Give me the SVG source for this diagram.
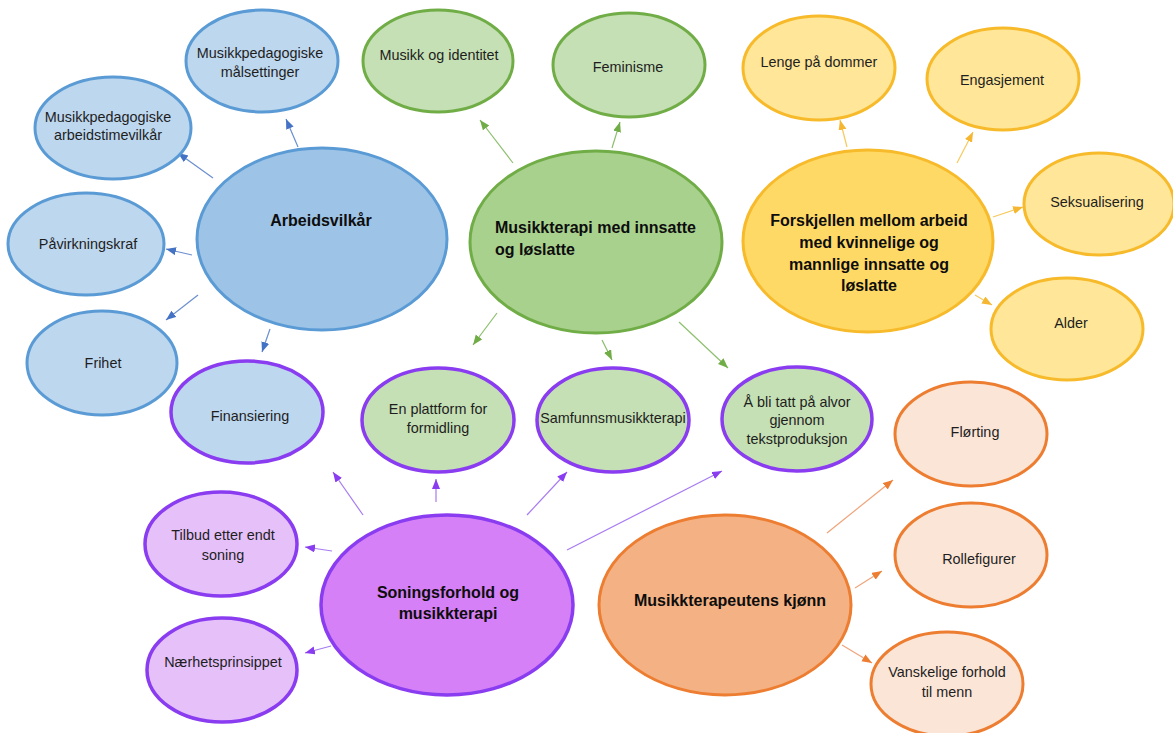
<svg xmlns="http://www.w3.org/2000/svg" width="1173" height="733" viewBox="0 0 1173 733">
<defs>
<style>
text{font-family:"Liberation Sans",Arial,sans-serif;fill:#1e1e1e;text-anchor:middle}
.s{font-size:14.4px}
.b{font-size:16px;font-weight:bold;fill:#0d0d0d}
ellipse{stroke-width:3}
.bl{fill:#BDD7EE;stroke:#5B9BD5}
.blB{fill:#9DC3E6;stroke:#5B9BD5}
.gr{fill:#C5E0B4;stroke:#70AD47}
.grB{fill:#A9D18E;stroke:#70AD47}
.ye{fill:#FFE699;stroke:#F7BA2A}
.yeB{fill:#FFD966;stroke:#F7BA2A}
.pu{fill:#E5C0F9;stroke:#8A3CF0;stroke-width:3.5}
.puB{fill:#D580F6;stroke:#8A3CF0;stroke-width:3.5}
.puS{stroke:#8A3CF0;stroke-width:3.5}
.or{fill:#FBE5D6;stroke:#ED7D31}
.orB{fill:#F4B183;stroke:#ED7D31}
line{stroke-width:1.2;fill:none}
.cb{stroke:#6C8FD0;marker-end:url(#mb)}
.cg{stroke:#8DBF6E;marker-end:url(#mg)}
.cy{stroke:#F7C95A;marker-end:url(#my)}
.cp{stroke:#A77BF2;marker-end:url(#mp)}
.co{stroke:#F0A47A;marker-end:url(#mo)}
</style>
<marker id="mb" markerUnits="userSpaceOnUse" markerWidth="11" markerHeight="9" refX="10" refY="4" orient="auto"><path d="M0,0 L10,4 L0,8 z" fill="#4472C4"/></marker>
<marker id="mg" markerUnits="userSpaceOnUse" markerWidth="11" markerHeight="9" refX="10" refY="4" orient="auto"><path d="M0,0 L10,4 L0,8 z" fill="#70AD47"/></marker>
<marker id="my" markerUnits="userSpaceOnUse" markerWidth="11" markerHeight="9" refX="10" refY="4" orient="auto"><path d="M0,0 L10,4 L0,8 z" fill="#F5B731"/></marker>
<marker id="mp" markerUnits="userSpaceOnUse" markerWidth="11" markerHeight="9" refX="10" refY="4" orient="auto"><path d="M0,0 L10,4 L0,8 z" fill="#8A3CF0"/></marker>
<marker id="mo" markerUnits="userSpaceOnUse" markerWidth="11" markerHeight="9" refX="10" refY="4" orient="auto"><path d="M0,0 L10,4 L0,8 z" fill="#ED7D31"/></marker>
</defs>
<rect width="1173" height="733" fill="#fff"/>

<g id="connectors">
<line class="cb" x1="298" y1="147" x2="286" y2="119"/>
<line class="cb" x1="213" y1="178" x2="178" y2="153"/>
<line class="cb" x1="192" y1="255" x2="166" y2="249"/>
<line class="cb" x1="198" y1="295" x2="166" y2="320"/>
<line class="cb" x1="270" y1="329" x2="262" y2="352"/>
<line class="cg" x1="513" y1="163" x2="480" y2="120"/>
<line class="cg" x1="612" y1="148" x2="620" y2="122"/>
<line class="cg" x1="497" y1="313" x2="473" y2="345"/>
<line class="cg" x1="602" y1="340" x2="612" y2="360"/>
<line class="cg" x1="679" y1="322" x2="728" y2="368"/>
<line class="cy" x1="847" y1="147" x2="840" y2="120"/>
<line class="cy" x1="957" y1="163" x2="973" y2="132"/>
<line class="cy" x1="993" y1="217" x2="1023" y2="207"/>
<line class="cy" x1="975" y1="295" x2="992" y2="305"/>
<line class="cp" x1="363" y1="515" x2="333" y2="472"/>
<line class="cp" x1="436" y1="502" x2="436" y2="479"/>
<line class="cp" x1="527" y1="515" x2="567" y2="472"/>
<line class="cp" x1="567" y1="550" x2="722" y2="471"/>
<line class="cp" x1="332" y1="551" x2="305" y2="547"/>
<line class="cp" x1="331" y1="646" x2="305" y2="653"/>
<line class="co" x1="827" y1="533" x2="893" y2="480"/>
<line class="co" x1="855" y1="588" x2="882" y2="571"/>
<line class="co" x1="842" y1="645" x2="872" y2="663"/>
</g>

<g id="n-malsettinger"><ellipse class="bl" cx="262" cy="61" rx="76" ry="51"/><text class="s" x="260" y="58">Musikkpedagogiske</text><text class="s" x="260" y="77">målsettinger</text></g>
<g id="n-arbeidstime"><ellipse class="bl" cx="113" cy="128" rx="78" ry="51"/><text class="s" x="108" y="122">Musikkpedagogiske</text><text class="s" x="108" y="140">arbeidstimevilkår</text></g>
<g id="n-pavirkning"><ellipse class="bl" cx="86" cy="244" rx="78" ry="51"/><text class="s" x="88" y="249">Påvirkningskraf</text></g>
<g id="n-frihet"><ellipse class="bl" cx="102" cy="363" rx="75" ry="52"/><text class="s" x="103" y="368">Frihet</text></g>
<g id="n-arbeidsvilkar"><ellipse class="blB" cx="322" cy="239" rx="125" ry="91"/><text class="b" x="321" y="226">Arbeidsvilkår</text></g>
<g id="n-finansiering"><ellipse class="bl puS" cx="247" cy="412" rx="76" ry="51"/><text class="s" x="250" y="421">Finansiering</text></g>

<g id="n-identitet"><ellipse class="gr" cx="438" cy="61" rx="75" ry="51"/><text class="s" x="439" y="60">Musikk og identitet</text></g>
<g id="n-feminisme"><ellipse class="gr" cx="629" cy="65" rx="76" ry="52"/><text class="s" x="628" y="72">Feminisme</text></g>
<g id="n-musikkterapi"><ellipse class="grB" cx="596" cy="242" rx="126" ry="91"/><text class="b" x="495" y="233" style="text-anchor:start">Musikkterapi med innsatte</text><text class="b" x="495" y="255" style="text-anchor:start">og løslatte</text></g>
<g id="n-plattform"><ellipse class="gr puS" cx="438" cy="420" rx="76" ry="52"/><text class="s" x="438" y="414">En plattform for</text><text class="s" x="438" y="433">formidling</text></g>
<g id="n-samfunn"><ellipse class="gr puS" cx="613" cy="420" rx="76" ry="52"/><text class="s" x="613" y="423">Samfunnsmusikkterapi</text></g>
<g id="n-alvor"><ellipse class="gr puS" cx="797" cy="419" rx="75" ry="52"/><text class="s" x="797" y="407">Å bli tatt på alvor</text><text class="s" x="797" y="425">gjennom</text><text class="s" x="797" y="444">tekstproduksjon</text></g>

<g id="n-lenge"><ellipse class="ye" cx="819" cy="68" rx="76" ry="52"/><text class="s" x="819" y="67">Lenge på dommer</text></g>
<g id="n-engasjement"><ellipse class="ye" cx="1003" cy="79" rx="76" ry="51"/><text class="s" x="1002" y="85">Engasjement</text></g>
<g id="n-forskjellen"><ellipse class="yeB" cx="868" cy="241" rx="125" ry="91"/><text class="b" x="869" y="226">Forskjellen mellom arbeid</text><text class="b" x="869" y="248">med kvinnelige og</text><text class="b" x="869" y="270">mannlige innsatte og</text><text class="b" x="869" y="291">løslatte</text></g>
<g id="n-seksualisering"><ellipse class="ye" cx="1099" cy="204" rx="75" ry="51"/><text class="s" x="1097" y="207">Seksualisering</text></g>
<g id="n-alder"><ellipse class="ye" cx="1067" cy="329" rx="76" ry="51"/><text class="s" x="1071" y="328">Alder</text></g>

<g id="n-tilbud"><ellipse class="pu" cx="221" cy="544" rx="76" ry="52"/><text class="s" x="223" y="540">Tilbud etter endt</text><text class="s" x="223" y="560">soning</text></g>
<g id="n-naerhet"><ellipse class="pu" cx="222" cy="670" rx="75" ry="52"/><text class="s" x="223" y="667">Nærhetsprinsippet</text></g>
<g id="n-soning"><ellipse class="puB" cx="447" cy="605" rx="126" ry="90"/><text class="b" x="448" y="598">Soningsforhold og</text><text class="b" x="448" y="619">musikkterapi</text></g>

<g id="n-kjonn"><ellipse class="orB" cx="725" cy="605" rx="126" ry="90"/><text class="b" x="730" y="606">Musikkterapeutens kjønn</text></g>
<g id="n-florting"><ellipse class="or" cx="971" cy="434" rx="76" ry="52"/><text class="s" x="975" y="437">Flørting</text></g>
<g id="n-rollefigurer"><ellipse class="or" cx="971" cy="555" rx="76" ry="52"/><text class="s" x="979" y="564">Rollefigurer</text></g>
<g id="n-vanskelige"><ellipse class="or" cx="947" cy="684" rx="76" ry="52"/><text class="s" x="947" y="677">Vanskelige forhold</text><text class="s" x="947" y="697">til menn</text></g>
</svg>
